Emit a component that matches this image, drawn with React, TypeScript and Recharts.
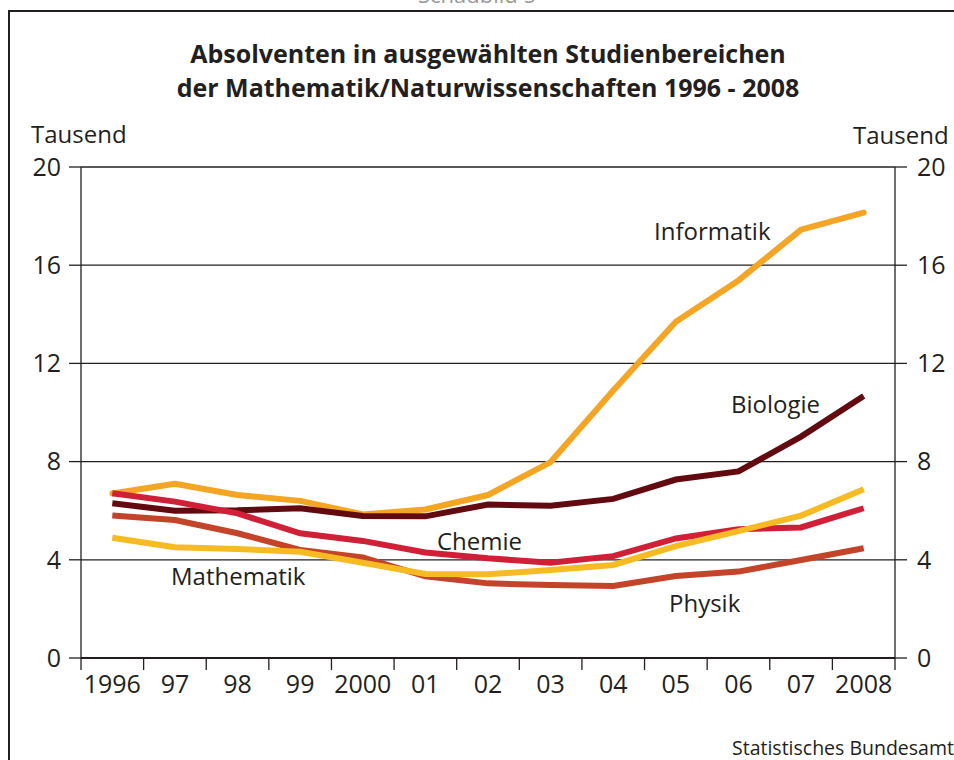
import { LineChart, Line, XAxis, YAxis, CartesianGrid } from "recharts";

const years = ["1996", "97", "98", "99", "2000", "01", "02", "03", "04", "05", "06", "07", "2008"];
const yTicks = [0, 4, 8, 12, 16, 20];

// Tausend Absolventen
const informatik = [6.7, 7.1, 6.64, 6.4, 5.85, 6.05, 6.64, 7.98, 10.9, 13.7, 15.38, 17.45, 18.14];
const biologie = [6.3, 6.0, 6.02, 6.1, 5.78, 5.77, 6.25, 6.2, 6.48, 7.27, 7.6, 9.02, 10.67];
const chemie = [6.71, 6.37, 5.89, 5.08, 4.77, 4.3, 4.06, 3.88, 4.15, 4.87, 5.24, 5.32, 6.1];
const physik = [5.8, 5.62, 5.08, 4.4, 4.1, 3.33, 3.04, 2.97, 2.93, 3.34, 3.52, 3.99, 4.47];
const mathematik = [4.9, 4.51, 4.44, 4.33, 3.88, 3.42, 3.41, 3.58, 3.79, 4.56, 5.17, 5.8, 6.87];

const data = years.map((y, i) => ({
  i,
  year: y,
  informatik: informatik[i],
  biologie: biologie[i],
  chemie: chemie[i],
  physik: physik[i],
  mathematik: mathematik[i],
}));

const centerTicks = years.map((_, i) => i);
const xDomain = [-0.5, years.length - 0.5];

const FONT = "'Open Sans', 'DejaVu Sans', sans-serif";
const INK = "#231f20";

// plot box
const W = 954;
const H = 760;
const PLOT_LEFT = 81;
const PLOT_RIGHT = 895;
const PLOT_TOP = 167;
const PLOT_BOTTOM = 658;
const LEFT_AXIS_W = 60;
const RIGHT_AXIS_W = 59;
const X_AXIS_H = 50;
const STEP = (PLOT_RIGHT - PLOT_LEFT) / years.length;

// year label in the middle, tick mark on the boundary between years
function YearTick(props: any) {
  const { x, y, payload, index } = props;
  const half = STEP / 2;
  return (
    <g>
      <line x1={x - half} y1={y} x2={x - half} y2={y + 12} stroke={INK} strokeWidth={1.3} />
      {index === years.length - 1 && (
        <line x1={x + half} y1={y} x2={x + half} y2={y + 12} stroke={INK} strokeWidth={1.3} />
      )}
      <text x={x} y={y + 17} dy="0.71em" textAnchor="middle" fontSize={25} fill={INK} fontFamily={FONT}>
        {years[payload.value]}
      </text>
    </g>
  );
}

export default function App() {
  return (
    <div style={{ position: "absolute", left: 0, top: 0, width: W, height: H, background: "#fff", fontFamily: FONT, overflow: "hidden" }}>
      <LineChart
        width={W}
        height={H}
        data={data}
        margin={{
          top: PLOT_TOP,
          right: W - PLOT_RIGHT - RIGHT_AXIS_W,
          bottom: H - PLOT_BOTTOM - X_AXIS_H,
          left: PLOT_LEFT - LEFT_AXIS_W,
        }}
      >
        <CartesianGrid vertical={false} stroke={INK} strokeWidth={1.3} yAxisId="left" />
        <XAxis
          dataKey="i"
          type="number"
          domain={xDomain}
          ticks={centerTicks}
          interval={0}
          height={X_AXIS_H}
          tickSize={0}
          tickMargin={0}
          tickLine={false}
          axisLine={{ stroke: INK, strokeWidth: 2 }}
          tick={<YearTick />}
        />
        <YAxis
          yAxisId="left"
          domain={[0, 20]}
          ticks={yTicks}
          width={LEFT_AXIS_W}
          tickSize={12}
          tickMargin={8}
          axisLine={{ stroke: INK, strokeWidth: 1.3 }}
          tickLine={{ stroke: INK, strokeWidth: 1.3 }}
          tick={{ fontSize: 25, fill: INK, fontFamily: FONT }}
        />
        <YAxis
          yAxisId="right"
          orientation="right"
          domain={[0, 20]}
          ticks={yTicks}
          width={RIGHT_AXIS_W}
          tickSize={12}
          tickMargin={10}
          axisLine={{ stroke: INK, strokeWidth: 1.3 }}
          tickLine={{ stroke: INK, strokeWidth: 1.3 }}
          tick={{ fontSize: 25, fill: INK, fontFamily: FONT }}
        />
        <Line yAxisId="left" dataKey="informatik" type="linear" stroke="#f5a524" strokeWidth={6} strokeLinecap="round" strokeLinejoin="round" dot={false} isAnimationActive={false} />
        <Line yAxisId="right" dataKey="biologie" type="linear" stroke="#620a0f" strokeWidth={6} strokeLinecap="butt" dot={false} isAnimationActive={false} />
        <Line yAxisId="right" dataKey="physik" type="linear" stroke="#c34428" strokeWidth={6} strokeLinecap="butt" dot={false} isAnimationActive={false} />
        <Line yAxisId="left" dataKey="chemie" type="linear" stroke="#d21f38" strokeWidth={6} strokeLinecap="butt" dot={false} isAnimationActive={false} />
        <Line yAxisId="left" dataKey="mathematik" type="linear" stroke="#f6bb22" strokeWidth={6} strokeLinecap="butt" dot={false} isAnimationActive={false} />
      </LineChart>

      <svg width={W} height={H} style={{ position: "absolute", left: 0, top: 0, pointerEvents: "none" }} fontFamily={FONT}>
        <text x={477} y={3} textAnchor="middle" fontSize={22} fill="#999">Schaubild 5</text>
        <line x1={9} y1={11} x2={W} y2={11} stroke={INK} strokeWidth={2} />
        <line x1={9} y1={10} x2={9} y2={H} stroke={INK} strokeWidth={2} />
        <text x={488} y={63} textAnchor="middle" fontSize={25} fontWeight={700} fill={INK}>
          Absolventen in ausgewählten Studienbereichen
        </text>
        <text x={488} y={97} textAnchor="middle" fontSize={25} fontWeight={700} fill={INK}>
          der Mathematik/Naturwissenschaften 1996 - 2008
        </text>
        <text x={31} y={143} fontSize={24} fill={INK}>Tausend</text>
        <text x={853} y={144} fontSize={24} fill={INK}>Tausend</text>
        <text x={654} y={240} fontSize={24} fill={INK}>Informatik</text>
        <text x={731} y={413} fontSize={24} fill={INK}>Biologie</text>
        <text x={437} y={550} fontSize={24} fill={INK}>Chemie</text>
        <text x={171} y={585} fontSize={24} fill={INK}>Mathematik</text>
        <text x={669} y={612} fontSize={24} fill={INK}>Physik</text>
        <text x={732} y={755} fontSize={19.5} fill={INK}>Statistisches Bundesamt</text>
      </svg>
    </div>
  );
}
